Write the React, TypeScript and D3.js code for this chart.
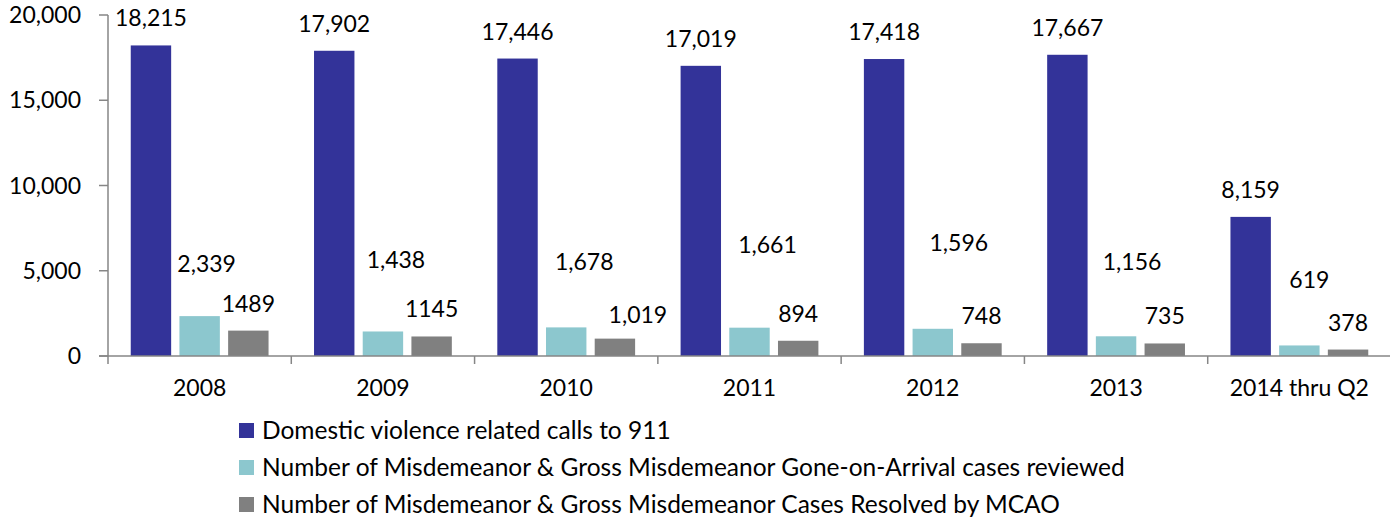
import React from "react";
import * as d3 from "d3";

const categories = ["2008", "2009", "2010", "2011", "2012", "2013", "2014 thru Q2"];
const seriesNames = [
  "Domestic violence related calls to 911",
  "Number of Misdemeanor & Gross Misdemeanor Gone-on-Arrival cases reviewed",
  "Number of Misdemeanor & Gross Misdemeanor Cases Resolved by MCAO",
];
const domesticCalls = [18215, 17902, 17446, 17019, 17418, 17667, 8159];
const goneOnArrival = [2339, 1438, 1678, 1661, 1596, 1156, 619];
const resolvedByMCAO = [1489, 1145, 1019, 894, 748, 735, 378];
// label text as printed in the chart (some without thousands separator)
const resolvedLabels = ["1489", "1145", "1,019", "894", "748", "735", "378"];
const yTicks = [0, 5000, 10000, 15000, 20000];

// manual label placement (pixel nudges from the default "outside end" position)
const cyanNudgeX = [7, 13, 18, 18, 26, 16, 10];
const cyanNudgeY = [-25, -44, -38, -56, -59, -47, -38];
const grayNudgeX = [0, 0, 23, 0, 0, 0, 0];
const grayNudgeY = [0, 0, 3, 0, 0, 0, 0];

const colors = ["#333399", "#8CC7CE", "#808080"];
const FONT = "Lato, 'Open Sans', sans-serif";
const FS_NUM = 23;
const FS_TXT = 24.5;

export default function App() {
  const W = 1390, H = 519;
  const left = 108, right = 1391, top = 15, bottom = 356;
  const fmt = d3.format(",");

  const x0 = d3.scaleBand<string>().domain(categories).range([left, right]).padding(0);
  const x1 = d3
    .scaleBand<number>()
    .domain([0, 1, 2])
    .range([0, x0.bandwidth()])
    .paddingInner(0.17)
    .paddingOuter(0.467);
  const y = d3.scaleLinear().domain([0, 20000]).range([bottom, top]);

  const series = [domesticCalls, goneOnArrival, resolvedByMCAO];
  const axisColor = "#868686";

  return (
    <div style={{ position: "absolute", left: 0, top: 0 }}>
      <svg width={W} height={H} style={{ display: "block", fontFamily: FONT }}>
        <rect width={W} height={H} fill="#fff" />
        {/* bars */}
        {series.map((vals, si) =>
          categories.map((c, ci) => (
            <rect
              key={`b${si}-${ci}`}
              x={(x0(c) ?? 0) + (x1(si) ?? 0)}
              y={y(vals[ci])}
              width={x1.bandwidth()}
              height={y(0) - y(vals[ci])}
              fill={colors[si]}
            />
          ))
        )}
        {/* y axis */}
        <line x1={left} x2={left} y1={top} y2={bottom} stroke={axisColor} strokeWidth={1.5} />
        {yTicks.map((t) => (
          <g key={`yt${t}`}>
            <line x1={left - 9} x2={left} y1={y(t)} y2={y(t)} stroke={axisColor} strokeWidth={1.5} />
            <text x={81} y={y(t)} dy="0.35em" textAnchor="end" fontSize={FS_NUM} fill="#000">
              {fmt(t)}
            </text>
          </g>
        ))}
        {/* x axis */}
        <line x1={left - 9} x2={W} y1={bottom} y2={bottom} stroke={axisColor} strokeWidth={1.5} />
        {categories.map((c) => (
          <line
            key={`xt${c}`}
            x1={x0(c) ?? 0}
            x2={x0(c) ?? 0}
            y1={bottom}
            y2={bottom + 8}
            stroke={axisColor}
            strokeWidth={1.5}
          />
        ))}
        {categories.map((c) => (
          <text
            key={`xl${c}`}
            x={(x0(c) ?? 0) + x0.bandwidth() / 2}
            y={396}
            textAnchor="middle"
            fontSize={FS_NUM}
            fill="#000"
          >
            {c}
          </text>
        ))}
        {/* data labels */}
        {categories.map((c, ci) => {
          const bx = (si: number) => (x0(c) ?? 0) + (x1(si) ?? 0) + x1.bandwidth() / 2;
          return (
            <g key={`dl${c}`} fontSize={FS_NUM} fill="#000" textAnchor="middle">
              <text x={bx(0)} y={y(domesticCalls[ci]) - 19}>
                {fmt(domesticCalls[ci])}
              </text>
              <text x={bx(1) + cyanNudgeX[ci]} y={y(goneOnArrival[ci]) - 19 + cyanNudgeY[ci]}>
                {fmt(goneOnArrival[ci])}
              </text>
              <text x={bx(2) + grayNudgeX[ci]} y={y(resolvedByMCAO[ci]) - 19 + grayNudgeY[ci]}>
                {resolvedLabels[ci]}
              </text>
            </g>
          );
        })}
        {/* legend */}
        {seriesNames.map((n, i) => (
          <g key={`lg${i}`} transform={`translate(239, ${423 + i * 37})`}>
            <rect width={15} height={15} fill={colors[i]} />
            <text x={23} y={16} fontSize={FS_TXT} fill="#000">
              {n}
            </text>
          </g>
        ))}
      </svg>
    </div>
  );
}
